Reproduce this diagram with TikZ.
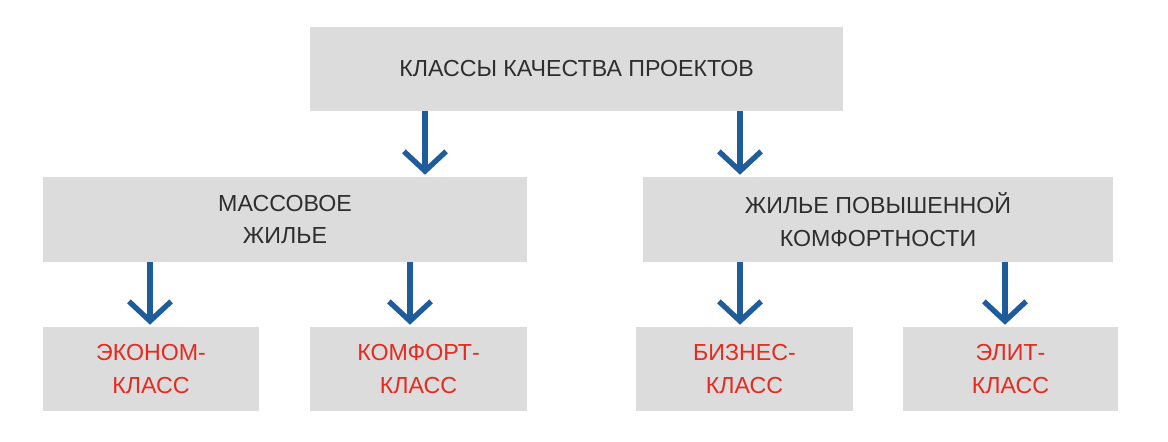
\documentclass[tikz,border=0pt]{standalone}
\usepackage{fontspec}
\setmainfont{Liberation Sans}
\usetikzlibrary{arrows.meta}
\definecolor{boxgray}{HTML}{DCDCDC}
\definecolor{txtgray}{HTML}{2E2E2E}
\definecolor{clsred}{HTML}{E62A1F}
\definecolor{arrblue}{HTML}{1E5C9C}

\begin{document}
\begin{tikzpicture}[x=0.025cm,y=-0.025cm,
  box/.style={fill=boxgray,inner sep=0pt,align=center,font=\fontsize{16.5}{23}\selectfont,text=txtgray},
  cls/.style={box,text=clsred},
  arr/.style={draw=arrblue,line width=3.8pt,-{Straight Barb[length=14pt,width=30pt]}}]

\useasboundingbox (0,0) rectangle (1168,441);

\node[box,minimum width=533*0.025cm,minimum height=84*0.025cm] (top) at (576.5,69) {КЛАССЫ КАЧЕСТВА ПРОЕКТОВ};
\node[box,minimum width=484*0.025cm,minimum height=85*0.025cm] (mass) at (285,219.5) {МАССОВОЕ\\ЖИЛЬЕ};
\node[box,minimum width=470*0.025cm,minimum height=85*0.025cm] (comf) at (878,219.5) {ЖИЛЬЕ ПОВЫШЕННОЙ\\КОМФОРТНОСТИ};

\node[cls,minimum width=216*0.025cm,minimum height=84*0.025cm] (econ) at (151,369) {ЭКОНОМ-\\КЛАСС};
\node[cls,minimum width=217*0.025cm,minimum height=84*0.025cm] (komf) at (418.5,369) {КОМФОРТ-\\КЛАСС};
\node[cls,minimum width=217*0.025cm,minimum height=84*0.025cm] (biz) at (744.5,369) {БИЗНЕС-\\КЛАСС};
\node[cls,minimum width=215*0.025cm,minimum height=84*0.025cm] (elit) at (1010.5,369) {ЭЛИТ-\\КЛАСС};

% arrow positions
\coordinate (a1) at (425,0);
\coordinate (a2) at (740,0);
\coordinate (a3) at (150,0);
\coordinate (a4) at (410,0);
\coordinate (a5) at (740,0);
\coordinate (a6) at (1005,0);

\draw[arr] (top.south -| a1) -- ([yshift=2*0.025cm]mass.north -| a1);
\draw[arr] (top.south -| a2) -- ([yshift=2*0.025cm]comf.north -| a2);
\draw[arr] (mass.south -| a3) -- ([yshift=2*0.025cm]econ.north -| a3);
\draw[arr] (mass.south -| a4) -- ([yshift=2*0.025cm]komf.north -| a4);
\draw[arr] (comf.south -| a5) -- ([yshift=2*0.025cm]biz.north -| a5);
\draw[arr] (comf.south -| a6) -- ([yshift=2*0.025cm]elit.north -| a6);

\end{tikzpicture}
\end{document}
